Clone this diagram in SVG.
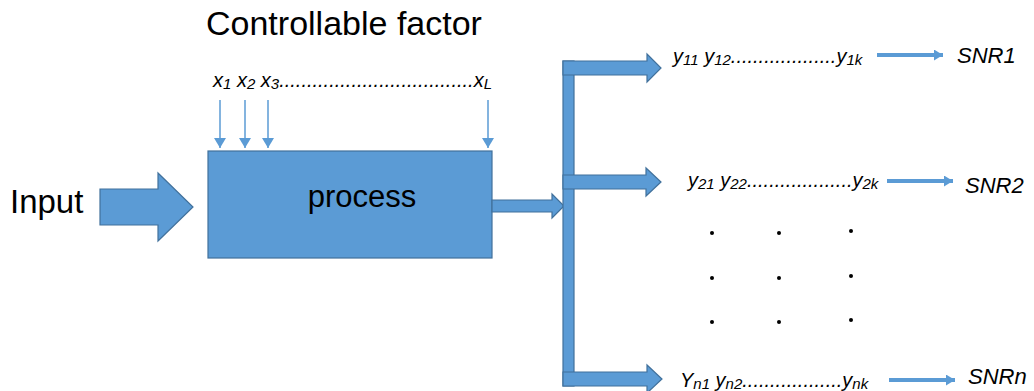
<svg xmlns="http://www.w3.org/2000/svg" width="1034" height="391" viewBox="0 0 1034 391">
  <defs>
    <style>
      .block { fill: #5b9bd5; stroke: #41719c; stroke-width: 1.2; }
      .label { font-family: "Liberation Sans", Arial, sans-serif; fill: #000; }
      .var { font-family: "Liberation Sans", Arial, sans-serif; font-style: italic; font-size: 20px; fill: #000; }
      .sub { font-size: 15px; }
      .snr { font-family: "Liberation Sans", Arial, sans-serif; font-style: italic; font-size: 22px; fill: #000; }
      .thin { stroke: #5b9bd5; stroke-width: 1.5; fill: none; }
      .thick { stroke: #5b9bd5; stroke-width: 4; fill: none; }
      .dot { fill: #000; }
    </style>
    <!-- small arrowhead for the thin factor lines -->
    <marker id="headThin" viewBox="0 0 10 12" refX="10" refY="6" markerWidth="10" markerHeight="12" markerUnits="userSpaceOnUse" orient="auto">
      <path d="M0,0 L10,6 L0,12 Z" fill="#5b9bd5"/>
    </marker>
    <!-- arrowhead for the thick response-to-SNR lines -->
    <marker id="headRight" viewBox="0 0 9 11" refX="9" refY="5.5" markerWidth="9" markerHeight="11" markerUnits="userSpaceOnUse" orient="auto">
      <path d="M0,0 L9,5.5 L0,11 Z" fill="#5b9bd5"/>
    </marker>
  </defs>

  <rect width="1034" height="391" fill="#ffffff"/>

  <!-- title -->
  <g id="title">
    <text class="label" x="206" y="35" font-size="34">Controllable factor</text>
  </g>

  <!-- controllable factor labels -->
  <g id="factors">
    <text class="var" x="213" y="87">x<tspan class="sub" dy="1.5">1</tspan><tspan dy="-1.5"> x</tspan><tspan class="sub" dy="1.5">2</tspan><tspan dy="-1.5"> x</tspan><tspan class="sub" dy="1.5">3</tspan><tspan dy="-1.5">...................................x</tspan><tspan class="sub" dy="1.5">L</tspan></text>
  </g>

  <!-- input -->
  <g id="input">
    <text class="label" x="10" y="213" font-size="33">Input</text>
    <path class="block" d="M100,189 H158 V173 L193,207 L158,241 V225 H100 Z"/>
  </g>

  <!-- process block -->
  <g id="process">
    <rect class="block" x="208" y="151" width="284" height="107"/>
    <text class="label" x="362" y="207" font-size="31" text-anchor="middle">process</text>
  </g>

  <!-- connectors -->
  <g id="connectors">
    <!-- factor arrows into the process -->
    <line class="thin" x1="220" y1="100" x2="220" y2="148" marker-end="url(#headThin)"/>
    <line class="thin" x1="245" y1="100" x2="245" y2="148" marker-end="url(#headThin)"/>
    <line class="thin" x1="268" y1="100" x2="268" y2="148" marker-end="url(#headThin)"/>
    <line class="thin" x1="488" y1="100" x2="488" y2="148" marker-end="url(#headThin)"/>

    <!-- process output and distribution bar -->
    <path class="block" d="M492,200 H552 V194 L564,206 L552,218 V212 H492 Z"/>
    <rect class="block" x="563" y="61" width="11" height="325"/>
    <path class="block" d="M563,61 H647 V54 L661,68 L647,82 V75 H563 Z"/>
    <path class="block" d="M563,175 H646 V168 L661,182 L646,196 V189 H563 Z"/>
    <path class="block" d="M563,372 H647 V365 L662,379 L647,393 V386 H563 Z"/>

    <!-- response to SNR arrows -->
    <line class="thick" x1="877" y1="55" x2="943" y2="55" marker-end="url(#headRight)"/>
    <line class="thick" x1="887" y1="181" x2="953" y2="181" marker-end="url(#headRight)"/>
    <line class="thick" x1="889" y1="380" x2="955" y2="380" marker-end="url(#headRight)"/>
  </g>

  <!-- response rows -->
  <g id="row1">
    <text class="var" x="673" y="63">y<tspan class="sub" dy="1.5">11</tspan><tspan dy="-1.5"> y</tspan><tspan class="sub" dy="1.5">12</tspan><tspan dy="-1.5">...................y</tspan><tspan class="sub" dy="1.5">1k</tspan></text>
    <text class="snr" x="957" y="63">SNR1</text>
  </g>
  <g id="row2">
    <text class="var" x="688" y="187">y<tspan class="sub" dy="1.5">21</tspan><tspan dy="-1.5"> y</tspan><tspan class="sub" dy="1.5">22</tspan><tspan dy="-1.5">...................y</tspan><tspan class="sub" dy="1.5">2k</tspan></text>
    <text class="snr" x="965" y="193">SNR2</text>
  </g>
  <g id="rowN">
    <text class="var" x="680" y="387">Y<tspan class="sub" dy="1.5">n1</tspan><tspan dy="-1.5"> y</tspan><tspan class="sub" dy="1.5">n2</tspan><tspan dy="-1.5">..................y</tspan><tspan class="sub" dy="1.5">nk</tspan></text>
    <text class="snr" x="968" y="384">SNRn</text>
  </g>

  <!-- vertical ellipsis grid -->
  <g id="ellipsis">
    <circle class="dot" cx="712" cy="233" r="2"/>
    <circle class="dot" cx="779" cy="233" r="2"/>
    <circle class="dot" cx="851" cy="231" r="2"/>
    <circle class="dot" cx="712" cy="278" r="2"/>
    <circle class="dot" cx="779" cy="278" r="2"/>
    <circle class="dot" cx="851" cy="276" r="2"/>
    <circle class="dot" cx="712" cy="322" r="2"/>
    <circle class="dot" cx="779" cy="322" r="2"/>
    <circle class="dot" cx="851" cy="320" r="2"/>
  </g>
</svg>
